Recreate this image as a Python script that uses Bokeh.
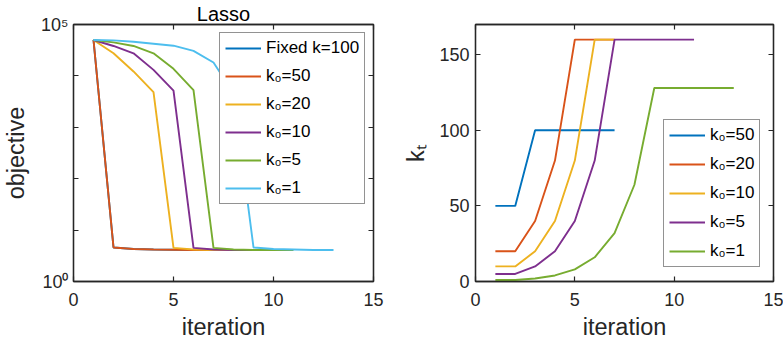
from bokeh.plotting import figure
from bokeh.layouts import row
from bokeh.models import (Range1d, LinearAxis, LogAxis, FixedTicker, Legend, LegendItem)
from bokeh.embed import file_html
from bokeh.resources import INLINE

# ---------------- data ----------------
# Left panel: objective vs iteration (Lasso)
left_names = ["Fixed k=100", "k₀=50", "k₀=20", "k₀=10", "k₀=5", "k₀=1"]
obj_fixed100 = [50000, 4.6, 4.3, 4.2, 4.15, 4.1, 4.1]
obj_k50 = [50000, 4.6, 4.3, 4.2, 4.15, 4.1, 4.1]
obj_k20 = [50000, 27500, 12200, 4840, 4.5, 4.2, 4.1, 4.1]
obj_k10 = [50000, 38200, 27500, 13100, 5150, 4.5, 4.2, 4.1, 4.1, 4.1]
obj_k5 = [50000, 44900, 38200, 27500, 13700, 5290, 4.5, 4.2, 4.1, 4.1, 4.1]
obj_k1 = [50000, 49000, 46200, 42300, 38700, 30600, 18200, 4600, 4.6, 4.3, 4.2, 4.1, 4.1]
left_series = [obj_fixed100, obj_k50, obj_k20, obj_k10, obj_k5, obj_k1]

# Right panel: k_t vs iteration
right_names = ["k₀=50", "k₀=20", "k₀=10", "k₀=5", "k₀=1"]
kt_k50 = [50, 50, 100, 100, 100, 100, 100]
kt_k20 = [20, 20, 40, 80, 160, 160, 160]
kt_k10 = [10, 10, 20, 40, 80, 160, 160]
kt_k5 = [5, 5, 10, 20, 40, 80, 160, 160, 160, 160, 160]
kt_k1 = [1, 1, 2, 4, 8, 16, 32, 64, 128, 128, 128, 128, 128]
right_series = [kt_k50, kt_k20, kt_k10, kt_k5, kt_k1]

x_ticks = [0, 5, 10, 15]
left_y_ticks = [1, 10, 100, 1000, 10000, 100000]
left_y_labels = {1: "10⁰", 10: "", 100: "", 1000: "", 10000: "", 100000: "10⁵"}
right_y_ticks = [0, 50, 100, 150]

colors = ["#0072BD", "#D95319", "#EDB120", "#7E2F8E", "#77AC30", "#4DBEEE"]

FONT = "Liberation Sans"
AX = "#262626"
LW = 1.9


def style_axis(ax, show_labels=True):
    ax.axis_line_color = AX
    ax.axis_line_width = 1.3
    ax.major_tick_line_color = AX
    ax.major_tick_line_width = 1.2
    ax.major_tick_in = 5
    ax.major_tick_out = 0
    ax.minor_tick_line_color = None
    ax.major_label_text_font = FONT
    ax.major_label_text_color = AX
    ax.axis_label_text_font = FONT
    ax.axis_label_text_font_style = "normal"
    ax.axis_label_text_color = AX
    ax.axis_label_text_font_size = "23.5px"
    if show_labels:
        ax.major_label_text_font_size = "18px"
    else:
        ax.major_label_text_font_size = "1px"
        ax.major_label_text_alpha = 0
        ax.major_label_standoff = 0


def base_fig(width, y_type, yr, mb_left, mb_right):
    p = figure(width=width, height=350, output_backend="svg", toolbar_location=None,
               x_range=Range1d(0, 15), y_range=yr, y_axis_type=y_type,
               min_border_left=mb_left, min_border_right=mb_right,
               min_border_top=23, min_border_bottom=69)
    p.grid.visible = False
    p.outline_line_color = AX
    p.outline_line_width = 1.3
    p.background_fill_color = "white"
    p.border_fill_color = "white"
    return p


def make_legend(items, loc, spacing):
    lg = Legend(items=items, location=loc, orientation="vertical")
    lg.label_text_font = FONT
    lg.label_text_font_size = "17px"
    lg.label_text_color = "black"
    lg.glyph_width = 36
    lg.glyph_height = 20
    lg.label_height = 20
    lg.label_standoff = 5
    lg.spacing = spacing
    lg.padding = 5
    lg.margin = 0
    lg.border_line_color = AX
    lg.border_line_width = 1.5
    lg.background_fill_color = "white"
    lg.background_fill_alpha = 1.0
    return lg


# ---------------- left plot ----------------
p1 = base_fig(400, "log", Range1d(1, 1e5), 72, 27)
p1.title.text = "Lasso"
p1.title.align = "center"
p1.title.text_font = FONT
p1.title.text_font_size = "20px"
p1.title.text_font_style = "normal"
p1.title.text_color = "black"
p1.title.standoff = 0
p1.title.offset = 0

items1 = []
for name, ys, c in zip(left_names, left_series, colors):
    xs = list(range(1, len(ys) + 1))
    r = p1.line(xs, ys, line_color=c, line_width=LW)
    items1.append(LegendItem(label=name, renderers=[r]))

p1.xaxis.ticker = FixedTicker(ticks=x_ticks, minor_ticks=[])
p1.yaxis.ticker = FixedTicker(ticks=left_y_ticks, minor_ticks=[])
p1.yaxis.major_label_overrides = left_y_labels
p1.xaxis.axis_label = "iteration"
p1.yaxis.axis_label = "objective"
for ax in p1.xaxis + p1.yaxis:
    style_axis(ax)
p1.xaxis.major_label_standoff = 11
p1.xaxis.axis_label_standoff = 5
p1.yaxis.major_label_standoff = 5
p1.yaxis.axis_label_standoff = 9

top1 = LinearAxis(ticker=FixedTicker(ticks=x_ticks, minor_ticks=[]))
style_axis(top1, False)
p1.add_layout(top1, "above")
right1 = LogAxis(ticker=FixedTicker(ticks=left_y_ticks, minor_ticks=[]))
style_axis(right1, False)
p1.add_layout(right1, "right")

p1.add_layout(make_legend(items1, (146, 77), 8), "center")

# ---------------- right plot ----------------
p2 = base_fig(383, "linear", Range1d(0, 170), 71, 10)
items2 = []
for name, ys, c in zip(right_names, right_series, colors):
    xs = list(range(1, len(ys) + 1))
    r = p2.line(xs, ys, line_color=c, line_width=LW)
    items2.append(LegendItem(label=name, renderers=[r]))

p2.xaxis.ticker = FixedTicker(ticks=x_ticks, minor_ticks=[])
p2.yaxis.ticker = FixedTicker(ticks=right_y_ticks, minor_ticks=[])
p2.xaxis.axis_label = "iteration"
p2.yaxis.axis_label = "kₜ"
for ax in p2.xaxis + p2.yaxis:
    style_axis(ax)
p2.xaxis.major_label_standoff = 11
p2.xaxis.axis_label_standoff = 5
p2.yaxis.major_label_standoff = 6
p2.yaxis.axis_label_standoff = 7

top2 = LinearAxis(ticker=FixedTicker(ticks=x_ticks, minor_ticks=[]))
style_axis(top2, False)
p2.add_layout(top2, "above")
right2 = LinearAxis(ticker=FixedTicker(ticks=right_y_ticks, minor_ticks=[]))
style_axis(right2, False)
p2.add_layout(right2, "right")

p2.add_layout(make_legend(items2, (188, 14), 9), "center")

layout = row(p1, p2)
open("out.html", "w").write(file_html(layout, INLINE))
